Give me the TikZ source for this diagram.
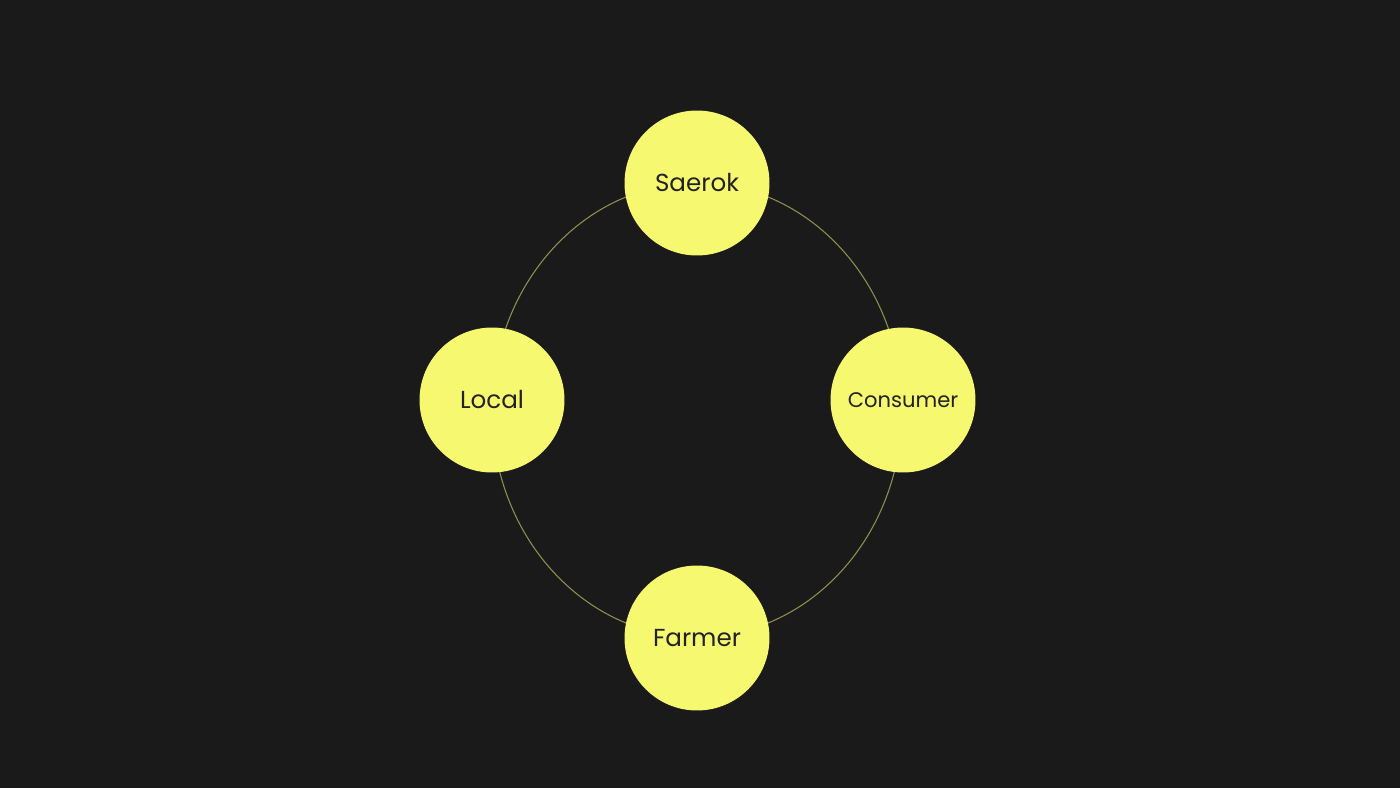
\documentclass[tikz,border=0pt]{standalone}
\usepackage{fontspec}
\setmainfont{Poppins}
\definecolor{bg}{HTML}{1A1A1A}
\definecolor{yel}{HTML}{F6F970}
\definecolor{ring}{HTML}{8E9150}
\definecolor{txt}{HTML}{222222}
\begin{document}
\begin{tikzpicture}[x=0.02cm,y=-0.02cm,
  bubble/.style={circle,fill=yel,minimum size=2.9cm,inner sep=0pt,text=txt,font=\fontsize{14}{16}\selectfont}]
\fill[bg] (0,0) rectangle (1400,788);
\useasboundingbox (0,0) rectangle (1400,788);
\coordinate (c) at (697,410);
\draw[ring,line width=0.6pt] (c) ellipse [x radius=205, y radius=227];
\node[bubble] (s) at (697,183) {Saerok};
\node[bubble] (l) at (492,400) {Local};
\node[bubble,font=\fontsize{12}{14}\selectfont] (k) at (903,400) {Consumer};
\node[bubble] (f) at (697,638) {Farmer};
\end{tikzpicture}
\end{document}
